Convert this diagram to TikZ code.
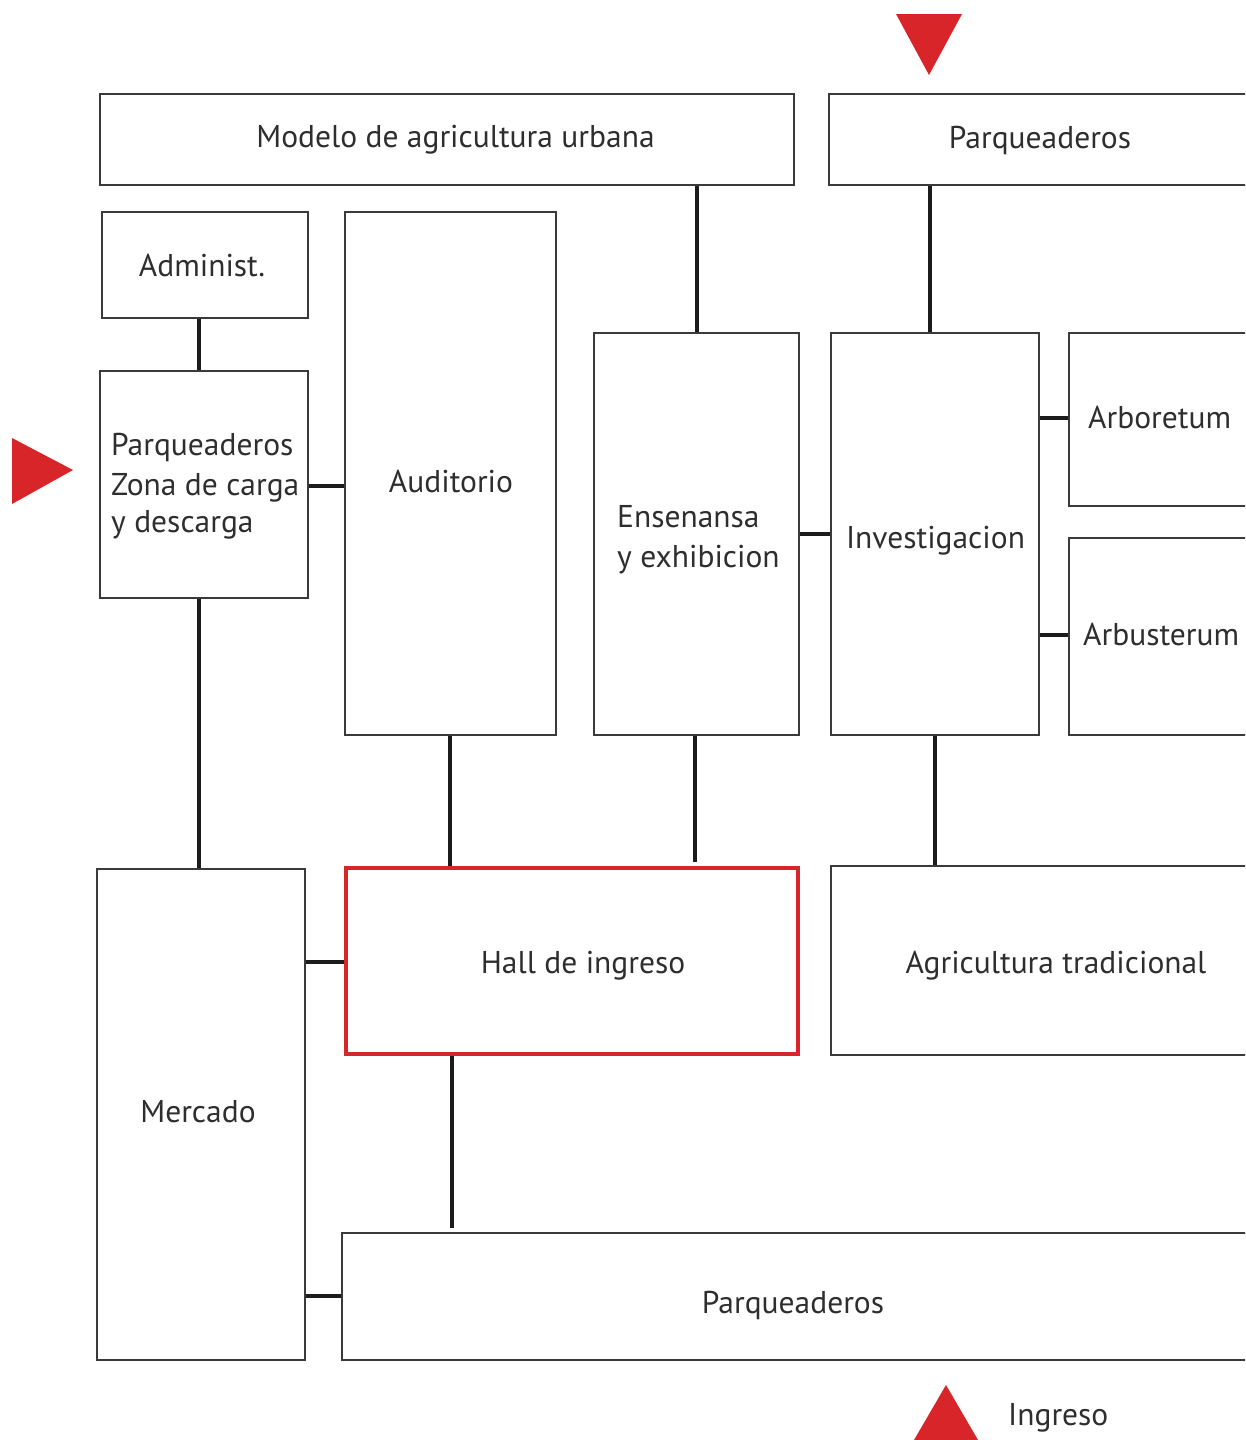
\documentclass[tikz,border=0pt]{standalone}
\usepackage{fontspec}
\setmainfont{PT Sans}
\definecolor{redmark}{HTML}{D7252A}
\definecolor{boxgray}{HTML}{3A3A3A}
\definecolor{txtgray}{HTML}{2E2E2E}
\definecolor{linkc}{HTML}{1C1C1C}
\tikzset{
  box/.style={draw=boxgray, line width=2.5pt, inner sep=0pt},
  hallbox/.style={box, draw=redmark, line width=3.5pt},
  link/.style={draw=linkc, line width=4pt},
  redmk/.style={fill=redmark},
  lbl/.style={inner sep=0pt, text=txtgray, font=\fontsize{31.5}{39}\selectfont, anchor=base},
  lblw/.style={lbl, anchor=base west}
}
% helper: box by corners
\newcommand{\bx}[6][box]{%
  \node[#1, minimum width={#4-#2}, minimum height={#5-#3}, anchor=center] (#6) at ({(#2+#4)/2},{(#3+#5)/2}) {};}
\begin{document}
\begin{tikzpicture}[x=1pt,y=-1pt]
\useasboundingbox (0,0) rectangle (1245,1440);
\clip (0,0) rectangle (1245,1440);
\bx{100}{94}{794}{185}{modelo}
\bx{829}{94}{1260}{185}{parqtop}
\bx{102}{212}{308}{318}{admin}
\bx{100}{371}{308}{598}{zona}
\bx{345}{212}{556}{735}{audit}
\bx{594}{333}{799}{735}{ensen}
\bx{831}{333}{1039}{735}{invest}
\bx{1069}{333}{1260}{506}{arbor}
\bx{1069}{538}{1260}{735}{arbus}
\bx{97}{869}{305}{1360}{merc}
\bx[hallbox]{346}{868}{798}{1054}{hall}
\bx{831}{866}{1260}{1055}{agri}
\bx{342}{1233}{1260}{1360}{parqbot}
% texts
\node[lbl] (modelo-t) at (455.5,147) {Modelo de agricultura urbana};
\node[lbl] (parqtop-t) at (1040,148) {Parqueaderos};
\node[lbl] (admin-t) at (202,276) {Administ.};
\node[lblw] (zona-t1) at (111,455) {Parqueaderos};
\node[lblw] (zona-t2) at (111,495) {Zona de carga};
\node[lblw] (zona-t3) at (111,532) {y descarga};
\node[lbl] (audit-t) at (451,492) {Auditorio};
\node[lblw] (ensen-t1) at (617,527) {Ensenansa};
\node[lblw] (ensen-t2) at (617,567) {y exhibicion};
\node[lbl] (invest-t) at (935.5,548) {Investigacion};
\node[lblw] (arbor-t) at (1088,428) {Arboretum};
\node[lblw] (arbus-t) at (1083,645) {Arbusterum};
\node[lbl] (hall-t) at (583,973) {Hall de ingreso};
\node[lbl] (agri-t) at (1056,973) {Agricultura tradicional};
\node[lbl] (merc-t) at (198,1122) {Mercado};
\node[lbl] (parqbot-t) at (793,1313) {Parqueaderos};
\node[lblw] (ingreso) at (1008,1425) {Ingreso};
% connectors
\draw[link] (modelo.south -| ensen.north) -- (ensen.north);
\draw[link] (parqtop.south -| 930,0) -- (invest.north -| 930,0);
\draw[link] (admin.south -| 199,0) -- (zona.north -| 199,0);
\draw[link] (zona.east |- 0,486) -- (audit.west |- 0,486);
\draw[link] (ensen.east |- 0,534) -- (invest.west |- 0,534);
\draw[link] (invest.east |- 0,418) -- (arbor.west |- 0,418);
\draw[link] (invest.east |- 0,635) -- (arbus.west |- 0,635);
\draw[link] (zona.south -| 199,0) -- (merc.north -| 199,0);
\draw[link] (audit.south -| 450,0) -- (hall.north -| 450,0);
\draw[link] (ensen.south -| 695,0) -- (695,862);
\draw[link] (invest.south -| 935,0) -- (agri.north -| 935,0);
\draw[link] (merc.east |- 0,962) -- (hall.west |- 0,962);
\draw[link] (hall.south -| 452,0) -- (452,1228);
\draw[link] (merc.east |- 0,1296) -- (parqbot.west |- 0,1296);
% markers
\fill[redmk] (896,14) -- (962,14) -- (929,75) -- cycle;
\fill[redmk] (12,438) -- (73,470) -- (12,504) -- cycle;
\fill[redmk] (946,1385) -- (985,1452) -- (907,1452) -- cycle;
\end{tikzpicture}
\end{document}
